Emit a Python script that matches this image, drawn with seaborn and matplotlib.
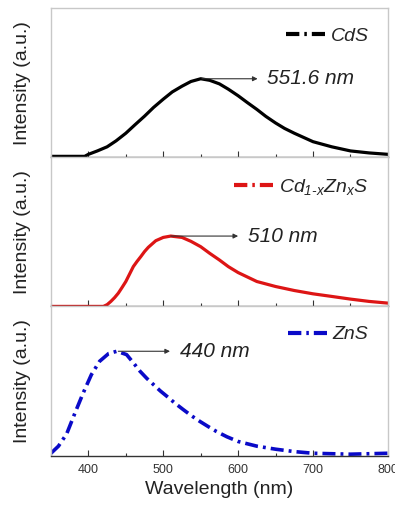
import numpy as np
import pandas as pd
import matplotlib
matplotlib.use('Agg')
import matplotlib.pyplot as plt
from matplotlib.lines import Line2D
from matplotlib.ticker import MultipleLocator
import seaborn as sns

# values (normalised to peak = 1)
cds_nm = [350, 370, 395, 400, 412, 425, 437, 450, 462, 475, 487, 500, 512, 525, 537, 550,
          562, 575, 587, 600, 612, 625, 637, 650, 662, 675, 700, 725, 750, 775, 800]
cds_int = [0.0, 0.0, 0.0, 0.026, 0.07, 0.123, 0.2, 0.298, 0.405, 0.518, 0.63, 0.737, 0.83,
           0.904, 0.965, 1.0, 0.98, 0.934, 0.865, 0.781, 0.695, 0.605, 0.515, 0.43, 0.36,
           0.298, 0.189, 0.123, 0.07, 0.044, 0.026]

czs_nm = [350, 380, 400, 420, 425, 430, 435, 440, 445, 450, 455, 460, 465, 470, 475, 480,
          490, 500, 510, 525, 537, 550, 562, 575, 587, 600, 625, 650, 675, 700, 725, 750, 775, 800]
czs_int = [0.0, 0.0, 0.0, 0.0, 0.025, 0.071, 0.125, 0.189, 0.27, 0.354, 0.46, 0.566, 0.64,
           0.708, 0.78, 0.84, 0.934, 0.981, 1.0, 0.981, 0.925, 0.849, 0.755, 0.66, 0.565,
           0.481, 0.354, 0.283, 0.226, 0.179, 0.142, 0.104, 0.071, 0.047]

zns_nm = [350, 360, 371, 382, 393, 404, 415, 427, 438, 451, 460, 469, 478, 487, 496, 505,
          516, 527, 538, 549, 560, 571, 585, 600, 625, 650, 675, 700, 750, 800]
zns_int = [0.022, 0.09, 0.208, 0.407, 0.599, 0.776, 0.904, 0.978, 1.0, 0.968, 0.89, 0.808,
           0.74, 0.68, 0.62, 0.567, 0.5, 0.439, 0.38, 0.327, 0.278, 0.231, 0.18, 0.135,
           0.09, 0.061, 0.038, 0.022, 0.013, 0.022]

peaks = [551.6, 510, 440]
peak_labels = ['551.6 nm', '510 nm', '440 nm']
arrow_end = [626, 600, 509]
series_names = ['CdS', r'$Cd_{1\text{-}x}Zn_{x}S$', 'ZnS']
colors = ['#000000', '#dd1515', '#0a0ac8']
y_tops = [1.91, 2.12, 1.43]

sns.set_style('ticks')
plt.rcParams['font.family'] = ['Liberation Sans', 'DejaVu Sans']
plt.rcParams['mathtext.fontset'] = 'custom'
plt.rcParams['mathtext.it'] = 'Liberation Sans:italic'
plt.rcParams['mathtext.rm'] = 'Liberation Sans:italic'
plt.rcParams['mathtext.default'] = 'it'

fig, axes = plt.subplots(3, 1, figsize=(3.95, 5.09), dpi=100, sharex=True)
fig.subplots_adjust(left=0.129, right=0.982, top=0.984, bottom=0.105, hspace=0)

data = [(cds_nm, cds_int), (czs_nm, czs_int), (zns_nm, zns_int)]
for i, ax in enumerate(axes):
    df = pd.DataFrame({'nm': data[i][0], 'I': data[i][1]})
    if i == 2:
        sns.lineplot(data=df, x='nm', y='I', ax=ax, color=colors[i], lw=2.6,
                     dashes=False, linestyle=(0, (3.6, 1.4, 0.8, 1.4)))
    else:
        sns.lineplot(data=df, x='nm', y='I', ax=ax, color=colors[i], lw=2.3)
    ax.set_xlim(350, 800)
    ax.set_ylim(-0.012 if i == 0 else 0, y_tops[i])
    ax.set_yticks([])
    ax.set_ylabel('Intensity (a.u.)', fontsize=14, color='#222222')
    ax.yaxis.set_label_coords(-0.058, 0.5)
    ax.set_xlabel('')
    for s in ['top', 'right', 'left']:
        ax.spines[s].set_color('#c8c8c8')
        ax.spines[s].set_linewidth(1.0)
    ax.spines['bottom'].set_color('#333333')
    ax.spines['bottom'].set_linewidth(1.0)
    ax.xaxis.set_major_locator(MultipleLocator(100))
    ax.xaxis.set_minor_locator(MultipleLocator(50))
    ax.tick_params(axis='x', which='major', direction='in', length=4, width=0.8,
                   color='#333333', labelsize=9, labelcolor='#333333', pad=6)
    ax.tick_params(axis='x', which='minor', direction='in', length=2.5, width=0.8,
                   color='#333333')
    ax.annotate('', xy=(arrow_end[i], 1.0), xytext=(peaks[i], 1.0),
                arrowprops=dict(arrowstyle='-|>', color='#333333', lw=0.8,
                                mutation_scale=7, shrinkA=0, shrinkB=0))
    ax.text(arrow_end[i] + 13, 1.0, peak_labels[i], fontsize=15, style='italic',
            va='center', ha='left', color='#222222')
    handle = Line2D([], [], color=colors[i], lw=3, linestyle=(0, (3.2, 1.2, 0.6, 1.2)))
    ax.legend(handles=[handle], labels=[series_names[i]], loc='upper right', frameon=False,
              handlelength=2.0, handletextpad=0.3, borderaxespad=0.6,
              prop={'style': 'italic', 'size': 14})

axes[2].set_xlabel('Wavelength (nm)', fontsize=14, color='#222222', labelpad=4)

fig.savefig('out.png', dpi=100)
